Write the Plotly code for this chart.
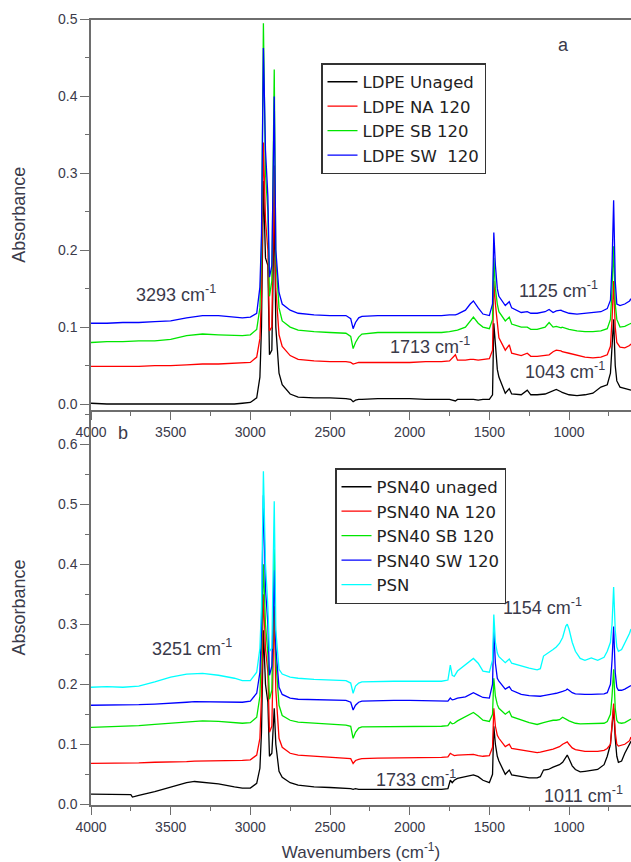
import plotly.graph_objects as go

# ---------------- data: panel a (LDPE) ----------------
WN_A = [4000, 3900, 3800, 3700, 3600, 3500, 3400, 3300, 3200, 3100,
        3050, 3000, 2960, 2940, 2930, 2918, 2905, 2890, 2880, 2865,
        2850, 2840, 2820, 2800, 2750, 2700, 2600, 2500, 2400, 2370,
        2355, 2340, 2320, 2300, 2200, 2100, 2000, 1900, 1800, 1750,
        1713, 1700, 1650, 1620, 1600, 1570, 1540, 1500, 1480, 1472,
        1462, 1450, 1440, 1400, 1375, 1360, 1300, 1262, 1240, 1200,
        1150, 1125, 1100, 1080, 1050, 1043, 1000, 950, 900, 850,
        800, 760, 740, 730, 720, 710, 700, 680, 650, 620,
        611]

LDPE_UNAGED = [0.001, 0.000, 0.000, 0.000, 0.000, 0.000, 0.000, 0.000, 0.000, 0.000,
               0.001, 0.002, 0.008, 0.035, 0.10, 0.29, 0.19, 0.18, 0.064, 0.07,
               0.26, 0.10, 0.04, 0.025, 0.013, 0.009, 0.008, 0.008, 0.007, 0.006,
               0.003, 0.005, 0.006, 0.006, 0.007, 0.007, 0.007, 0.006, 0.006, 0.006,
               0.004, 0.006, 0.006, 0.006, 0.006, 0.005, 0.006, 0.006, 0.012, 0.105,
               0.08, 0.045, 0.035, 0.014, 0.02, 0.013, 0.012, 0.018, 0.012, 0.012,
               0.013, 0.015, 0.018, 0.019, 0.016, 0.015, 0.012, 0.011, 0.012, 0.014,
               0.022, 0.025, 0.04, 0.07, 0.11, 0.05, 0.03, 0.022, 0.02, 0.018,
               0.018]
LDPE_NA120 = [0.049, 0.049, 0.049, 0.049, 0.050, 0.050, 0.051, 0.052, 0.052, 0.053,
              0.053, 0.054, 0.061, 0.085, 0.14, 0.34, 0.24, 0.20, 0.095, 0.10,
              0.31, 0.15, 0.09, 0.075, 0.063, 0.058, 0.056, 0.055, 0.055, 0.054,
              0.052, 0.053, 0.054, 0.054, 0.054, 0.054, 0.054, 0.055, 0.055, 0.056,
              0.064, 0.057, 0.057, 0.058, 0.058, 0.057, 0.058, 0.059, 0.07, 0.16,
              0.13, 0.10, 0.086, 0.07, 0.077, 0.066, 0.063, 0.066, 0.062, 0.062,
              0.063, 0.064, 0.068, 0.07, 0.069, 0.068, 0.066, 0.063, 0.061, 0.06,
              0.061, 0.064, 0.075, 0.11, 0.16, 0.10, 0.08, 0.074, 0.073, 0.076,
              0.078]
LDPE_SB120 = [0.080, 0.081, 0.081, 0.082, 0.082, 0.084, 0.089, 0.091, 0.090, 0.089,
              0.089, 0.090, 0.097, 0.125, 0.20, 0.495, 0.30, 0.25, 0.14, 0.16,
              0.435, 0.19, 0.125, 0.108, 0.10, 0.096, 0.094, 0.093, 0.092, 0.088,
              0.072, 0.08, 0.087, 0.091, 0.093, 0.093, 0.093, 0.093, 0.093, 0.094,
              0.095, 0.096, 0.10, 0.108, 0.113, 0.105, 0.10, 0.098, 0.11, 0.19,
              0.15, 0.13, 0.12, 0.108, 0.113, 0.104, 0.10, 0.10, 0.097, 0.097,
              0.10, 0.106, 0.10, 0.101, 0.099, 0.10, 0.097, 0.095, 0.094, 0.094,
              0.095, 0.098, 0.11, 0.15, 0.205, 0.13, 0.11, 0.10, 0.101, 0.104,
              0.105]
LDPE_SW120 = [0.105, 0.105, 0.106, 0.106, 0.107, 0.108, 0.112, 0.115, 0.115, 0.113,
              0.112, 0.113, 0.118, 0.152, 0.22, 0.463, 0.33, 0.27, 0.165, 0.18,
              0.40, 0.20, 0.145, 0.13, 0.122, 0.118, 0.116, 0.115, 0.115, 0.111,
              0.098, 0.106, 0.112, 0.114, 0.115, 0.115, 0.115, 0.115, 0.115, 0.116,
              0.116, 0.117, 0.122, 0.13, 0.134, 0.125, 0.117, 0.115, 0.13, 0.223,
              0.18, 0.15, 0.14, 0.128, 0.133, 0.125, 0.119, 0.12, 0.118, 0.118,
              0.12, 0.123, 0.119, 0.121, 0.122, 0.121, 0.118, 0.117, 0.118, 0.119,
              0.12, 0.124, 0.135, 0.18, 0.265, 0.16, 0.13, 0.128, 0.13, 0.134,
              0.137]

# ---------------- data: panel b (PSN40) ----------------
WN_B = [4000, 3900, 3800, 3750, 3740, 3700, 3600, 3500, 3400, 3350,
        3300, 3200, 3100, 3050, 3000, 2960, 2940, 2930, 2918, 2905,
        2890, 2880, 2865, 2850, 2840, 2820, 2800, 2750, 2700, 2600,
        2500, 2400, 2370, 2355, 2340, 2320, 2300, 2200, 2100, 2000,
        1900, 1800, 1760, 1745, 1733, 1720, 1700, 1650, 1600, 1570,
        1540, 1500, 1480, 1472, 1462, 1450, 1440, 1400, 1375, 1360,
        1300, 1250, 1200, 1180, 1160, 1130, 1100, 1080, 1060, 1040,
        1020, 1011, 1000, 980, 960, 930, 900, 860, 820, 780,
        760, 740, 730, 720, 710, 700, 690, 670, 650, 620,
        611]

PSN40_UNAGED = [0.017, 0.017, 0.017, 0.016, 0.012, 0.015, 0.021, 0.029, 0.036, 0.038,
                0.037, 0.034, 0.029, 0.027, 0.027, 0.035, 0.06, 0.12, 0.29, 0.20,
                0.17, 0.08, 0.085, 0.16, 0.10, 0.055, 0.045, 0.036, 0.032, 0.029,
                0.028, 0.027, 0.026, 0.025, 0.026, 0.025, 0.025, 0.024, 0.024, 0.024,
                0.024, 0.025, 0.026, 0.04, 0.036, 0.04, 0.043, 0.046, 0.049, 0.046,
                0.04, 0.036, 0.05, 0.13, 0.10, 0.08, 0.072, 0.05, 0.057, 0.049,
                0.046, 0.044, 0.044, 0.046, 0.057, 0.058, 0.062, 0.064, 0.066, 0.07,
                0.078, 0.082, 0.076, 0.064, 0.058, 0.054, 0.055, 0.056, 0.058, 0.066,
                0.08, 0.10, 0.13, 0.16, 0.11, 0.08, 0.07, 0.072, 0.085, 0.10,
                0.105]
PSN40_NA120 = [0.068, 0.068, 0.069, 0.069, 0.069, 0.069, 0.070, 0.070, 0.071, 0.072,
               0.072, 0.072, 0.073, 0.073, 0.074, 0.082, 0.11, 0.18, 0.35, 0.26,
               0.22, 0.12, 0.13, 0.33, 0.19, 0.11, 0.095, 0.085, 0.082, 0.080,
               0.078, 0.077, 0.076, 0.068, 0.073, 0.075, 0.076, 0.077, 0.077, 0.077,
               0.078, 0.078, 0.079, 0.085, 0.083, 0.081, 0.082, 0.082, 0.083, 0.081,
               0.08, 0.081, 0.095, 0.16, 0.13, 0.115, 0.11, 0.096, 0.10, 0.093,
               0.09, 0.088, 0.086, 0.087, 0.088, 0.09, 0.092, 0.094, 0.096, 0.10,
               0.103, 0.104, 0.10, 0.094, 0.091, 0.089, 0.088, 0.088, 0.088, 0.09,
               0.093, 0.10, 0.13, 0.168, 0.12, 0.10, 0.097, 0.098, 0.10, 0.106,
               0.112]
PSN40_SB120 = [0.128, 0.129, 0.129, 0.130, 0.130, 0.131, 0.133, 0.135, 0.138, 0.139,
               0.139, 0.138, 0.136, 0.135, 0.136, 0.145, 0.18, 0.26, 0.40, 0.30,
               0.25, 0.175, 0.19, 0.425, 0.24, 0.165, 0.148, 0.14, 0.137, 0.135,
               0.133, 0.132, 0.13, 0.11, 0.12, 0.127, 0.129, 0.129, 0.129, 0.129,
               0.129, 0.13, 0.131, 0.137, 0.134, 0.135, 0.139, 0.146, 0.153, 0.147,
               0.14, 0.138, 0.15, 0.21, 0.18, 0.166, 0.16, 0.15, 0.155, 0.146,
               0.14, 0.136, 0.133, 0.134, 0.136, 0.138, 0.14, 0.14, 0.141, 0.145,
               0.142, 0.14, 0.139, 0.137, 0.135, 0.134, 0.134, 0.134, 0.135, 0.135,
               0.138, 0.15, 0.18, 0.225, 0.16, 0.14, 0.136, 0.135, 0.136, 0.14,
               0.142]
PSN40_SW120 = [0.165, 0.165, 0.166, 0.166, 0.166, 0.166, 0.167, 0.168, 0.170, 0.171,
               0.171, 0.171, 0.170, 0.170, 0.172, 0.185, 0.22, 0.29, 0.515, 0.36,
               0.30, 0.215, 0.23, 0.39, 0.26, 0.195, 0.183, 0.177, 0.175, 0.174,
               0.174, 0.173, 0.17, 0.157, 0.165, 0.17, 0.172, 0.173, 0.173, 0.173,
               0.173, 0.173, 0.172, 0.177, 0.174, 0.175, 0.177, 0.179, 0.186, 0.182,
               0.178, 0.177, 0.20, 0.29, 0.235, 0.21, 0.205, 0.192, 0.196, 0.19,
               0.183, 0.181, 0.18, 0.18, 0.181, 0.182, 0.184, 0.185, 0.186, 0.188,
               0.19, 0.192, 0.19, 0.186, 0.184, 0.183, 0.183, 0.183, 0.183, 0.184,
               0.186, 0.20, 0.24, 0.296, 0.22, 0.195, 0.19, 0.19, 0.192, 0.196,
               0.198]
PSN = [0.195, 0.196, 0.195, 0.196, 0.195, 0.197, 0.204, 0.212, 0.217, 0.218,
       0.218, 0.215, 0.210, 0.206, 0.206, 0.22, 0.26, 0.33, 0.555, 0.40,
       0.33, 0.255, 0.26, 0.505, 0.29, 0.225, 0.217, 0.212, 0.21, 0.208,
       0.207, 0.206, 0.202, 0.185, 0.197, 0.202, 0.204, 0.205, 0.205, 0.205,
       0.205, 0.205, 0.207, 0.232, 0.215, 0.213, 0.222, 0.232, 0.243, 0.235,
       0.222, 0.22, 0.24, 0.316, 0.27, 0.252, 0.246, 0.236, 0.242, 0.235,
       0.23, 0.227, 0.224, 0.226, 0.247, 0.252, 0.258, 0.262, 0.268, 0.278,
       0.297, 0.30, 0.292, 0.27, 0.255, 0.243, 0.24, 0.244, 0.24, 0.245,
       0.255, 0.27, 0.30, 0.362, 0.29, 0.262, 0.255, 0.258, 0.268, 0.285,
       0.292]

NAMES_A = ["LDPE Unaged", "LDPE NA 120", "LDPE SB 120", "LDPE SW  120"]
NAMES_B = ["PSN40 unaged", "PSN40 NA 120", "PSN40 SB 120", "PSN40 SW 120", "PSN"]
SERIES_A = [LDPE_UNAGED, LDPE_NA120, LDPE_SB120, LDPE_SW120]
SERIES_B = [PSN40_UNAGED, PSN40_NA120, PSN40_SB120, PSN40_SW120, PSN]
COLORS = ["#000000", "#ff0000", "#00e600", "#0000ff", "#00ffff"]

X_TICKS = [4000, 3500, 3000, 2500, 2000, 1500, 1000]
Y_TICKS_A = [0.0, 0.1, 0.2, 0.3, 0.4, 0.5]
Y_TICKS_B = [0.0, 0.1, 0.2, 0.3, 0.4, 0.5, 0.6]

for s in SERIES_A:
    assert len(s) == len(WN_A)
for s in SERIES_B:
    assert len(s) == len(WN_B)

# ---------------- figure ----------------
W, H = 631, 862
FONT = "Liberation Sans, Arial, sans-serif"
WIDE = "DejaVu Sans, Liberation Sans, sans-serif"
AXC = "#6e6e6e"
TXT = "#3a3a4a"


def px(x):
    return x / W


def py(y):
    return 1 - y / H


fig = go.Figure()
for name, vals, col in zip(NAMES_A, SERIES_A, COLORS):
    fig.add_trace(go.Scatter(x=WN_A, y=vals, mode="lines", name=name,
                             line=dict(color=col, width=1.3),
                             xaxis="x", yaxis="y", legend="legend"))
for name, vals, col in zip(NAMES_B, SERIES_B, COLORS):
    fig.add_trace(go.Scatter(x=WN_B, y=vals, mode="lines", name=name,
                             line=dict(color=col, width=1.3),
                             xaxis="x2", yaxis="y2", legend="legend2"))

common_x = dict(range=[4000, 611], tickvals=X_TICKS, showline=True, linecolor=AXC,
                linewidth=1.5, ticks="outside", ticklen=8, tickwidth=1.2, tickcolor=AXC,
                minor=dict(dtick=250, tick0=0, ticks="outside", ticklen=4, tickcolor=AXC,
                           tickwidth=1.2, showgrid=False),
                tickfont=dict(size=14, color=TXT, family=FONT),
                showgrid=False, zeroline=False, automargin=False)
common_y = dict(showline=True, linecolor=AXC, linewidth=1.5, ticks="outside", ticklen=9,
                tickwidth=1.2, tickcolor=AXC, tickformat=".1f",
                minor=dict(dtick=0.05, tick0=0, ticks="outside", ticklen=4, tickcolor=AXC,
                           tickwidth=1.2, showgrid=False),
                tickfont=dict(size=14, color=TXT, family=FONT),
                showgrid=False, zeroline=False, automargin=False,
                title=dict(text="Absorbance", font=dict(size=18, color=TXT, family=FONT),
                           standoff=28))

legend_common = dict(xanchor="left", yanchor="top", bordercolor="#333333", borderwidth=1.5,
                     bgcolor="white", tracegroupgap=0,
                     font=dict(size=16.5, color="#222222", family=WIDE))

fig.update_layout(
    width=W, height=H,
    margin=dict(l=0, r=0, t=0, b=0, autoexpand=False),
    paper_bgcolor="white", plot_bgcolor="white",
    font=dict(family=FONT, color=TXT),
    xaxis=dict(domain=[px(91), 1], anchor="y", mirror=True, **common_x),
    yaxis=dict(domain=[py(410), py(19.5)], anchor="x", range=[-0.0078, 0.5],
               tickvals=Y_TICKS_A, **common_y),
    xaxis2=dict(domain=[px(91), 1], anchor="y2",
                title=dict(text="Wavenumbers (cm<sup>-1</sup>)",
                           font=dict(size=17, color=TXT, family=FONT), standoff=14),
                **common_x),
    yaxis2=dict(domain=[py(805), py(410)], anchor="x2", range=[-0.0012, 0.657],
                tickvals=Y_TICKS_B, **common_y),
    legend=dict(x=px(321), y=py(63), **legend_common),
    legend2=dict(x=px(335), y=py(468), **legend_common),
)

LABELS = [
    ("a", 563, 45), ("3293 cm<sup>-1</sup>", 176, 293), ("1713 cm<sup>-1</sup>", 430, 345),
    ("1125 cm<sup>-1</sup>", 558, 290), ("1043 cm<sup>-1</sup>", 565, 370),
    ("b", 123, 433), ("3251 cm<sup>-1</sup>", 192, 647), ("1154 cm<sup>-1</sup>", 542, 606),
    ("1733 cm<sup>-1</sup>", 416, 778), ("1011 cm<sup>-1</sup>", 583, 794),
]
for text, x, y in LABELS:
    fig.add_annotation(text=text, x=px(x), y=py(y), xref="paper", yref="paper",
                       xanchor="center", yanchor="middle", showarrow=False,
                       font=dict(size=18, color=TXT, family=FONT))

fig.write_html("out.html",
               config={"displayModeBar": False},
               post_script="document.body.style.margin='0';"
                           "document.body.style.overflow='hidden';")
